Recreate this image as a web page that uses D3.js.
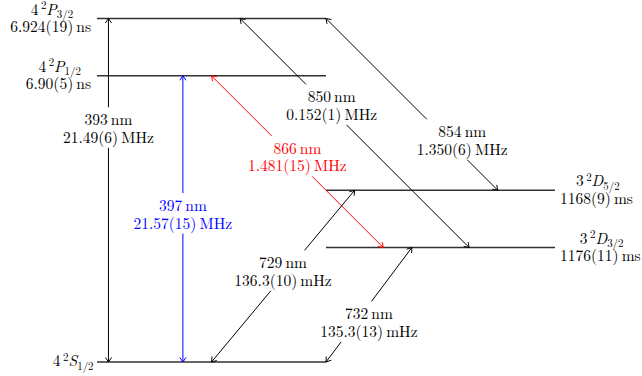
<!DOCTYPE html>
<html>
<head>
<meta charset="utf-8">
<script src="https://cdn.jsdelivr.net/npm/d3@7"></script>
<style>
  html, body { margin: 0; padding: 0; background: #fff; }
</style>
</head>
<body>
<svg id="chart" width="642" height="376"></svg>
<script>
// Energy levels of 40Ca+ (heights in diagram units)
const levelIds = ["S12", "D32", "D52", "P12", "P32"];
const levelN = ["4", "3", "3", "4", "4"];
const levelL = ["S", "D", "D", "P", "P"];
const levelJ = ["1/2", "3/2", "5/2", "1/2", "3/2"];
const levelLifetime = ["", "1176(11)\u2009ms", "1168(9)\u2009ms", "6.90(5)\u2009ns", "6.924(19)\u2009ns"];
const levelHeight = [0, 2, 3, 5, 6];
const levelStart = [0, 4, 4, 0, 0];
const levelEnd = [4, 8, 8, 4, 4];

// Transitions between levels
const lineWavelength = ["393\u2009nm", "397\u2009nm", "866\u2009nm", "850\u2009nm", "854\u2009nm", "729\u2009nm", "732\u2009nm"];
const lineRate = ["21.49(6)\u2009MHz", "21.57(15)\u2009MHz", "1.481(15)\u2009MHz", "0.152(1)\u2009MHz",
                  "1.350(6)\u2009MHz", "136.3(10)\u2009mHz", "135.3(13)\u2009mHz"];
const lineLower = ["S12", "S12", "D32", "D32", "D52", "S12", "S12"];
const lineUpper = ["P32", "P12", "P12", "P32", "P32", "D52", "D32"];
const lineLowerX = [0.2, 1.5, 5, 6.5, 7, 2, 4];
const lineUpperX = [0.2, 1.5, 2, 2.5, 4, 4.5, 5.5];

// label anchors (diagram units) and colours of each transition
const labelX = [0.2, 1.5, 3.5, 4.1, 6.38, 3.25, 4.75];
const labelY = [4, 2.5, 3.5, 4.4, 3.79, 1.5, 0.61];
const lineColor = ["#000", "#0000ff", "#ff0000", "#000", "#000", "#000", "#000"];

const svg = d3.select("#chart").style("font-family", '"Latin Modern Roman", "Liberation Serif", serif');
const x = d3.scaleLinear().domain([0, 8]).range([97, 555]);
const y = d3.scaleLinear().domain([0, 6]).range([362, 18.5]);
const FS = 15.5;
const LH = 17.5;

const levelY = id => levelHeight[levelIds.indexOf(id)];

// level lines
const gLevels = svg.append("g");
levelIds.forEach((id, i) => {
  gLevels.append("line")
    .attr("x1", x(levelStart[i])).attr("x2", x(levelEnd[i]))
    .attr("y1", y(levelHeight[i])).attr("y2", y(levelHeight[i]))
    .attr("stroke", "#333").attr("stroke-width", 1.4);
});

// term symbol n ^2 L_J
function termText(sel, i) {
  sel.append("tspan").text(levelN[i]);
  sel.append("tspan").attr("dx", 2.5).attr("dy", -5.5).attr("font-size", FS * 0.7).text("2");
  sel.append("tspan").attr("dy", 5.5).attr("font-style", "italic").text(levelL[i]);
  sel.append("tspan").attr("dy", 3.5).attr("font-size", FS * 0.7).text(levelJ[i]);
}

// level labels: two centered lines, block on left (P, S) or right (D)
levelIds.forEach((id, i) => {
  const g = svg.append("g");
  const yy = y(levelHeight[i]);
  const single = levelLifetime[i] === "";
  const t1 = g.append("text").attr("font-size", FS).attr("y", single ? yy + 4 : yy - 4);
  termText(t1, i);
  let t2 = null;
  if (!single) {
    t2 = g.append("text").attr("font-size", FS).attr("y", yy - 4 + LH).text(levelLifetime[i]);
  }
  const w1 = t1.node().getComputedTextLength();
  const w2 = t2 ? t2.node().getComputedTextLength() : 0;
  const w = Math.max(w1, w2);
  const left = levelStart[i] === 0;
  const cx = left ? x(levelStart[i]) - 6 - w / 2 : x(levelEnd[i]) + 5 + w / 2;
  t1.attr("x", cx - w1 / 2);
  if (t2) t2.attr("x", cx - w2 / 2);
});

// transition arrows with open heads at both ends
const gLines = svg.append("g");
function head(g, xt, yt, xf, yf, color) {
  const a = Math.atan2(yt - yf, xt - xf);
  const L = 5.5, s = 0.6;
  const p = [
    [xt - L * Math.cos(a - s), yt - L * Math.sin(a - s)],
    [xt, yt],
    [xt - L * Math.cos(a + s), yt - L * Math.sin(a + s)]
  ];
  g.append("path").attr("d", d3.line()(p))
    .attr("fill", "none").attr("stroke", color).attr("stroke-width", 1);
}
lineWavelength.forEach((w, i) => {
  const x1 = x(lineLowerX[i]), y1 = y(levelY(lineLower[i]));
  const x2 = x(lineUpperX[i]), y2 = y(levelY(lineUpper[i]));
  gLines.append("line").attr("x1", x1).attr("y1", y1).attr("x2", x2).attr("y2", y2)
    .attr("stroke", lineColor[i]).attr("stroke-width", 1);
  head(gLines, x1, y1, x2, y2, lineColor[i]);
  head(gLines, x2, y2, x1, y1, lineColor[i]);
});

// transition labels on white boxes
const gLabels = svg.append("g");
lineWavelength.forEach((w, i) => {
  const g = gLabels.append("g");
  const cx = x(labelX[i]), cy = y(labelY[i]);
  const rect = g.append("rect").attr("fill", "#fff");
  const b1 = cy - LH / 2 + 1;
  const t1 = g.append("text").attr("font-size", FS).attr("fill", lineColor[i])
    .attr("text-anchor", "middle").attr("x", cx).attr("y", b1).text(w);
  const t2 = g.append("text").attr("font-size", FS).attr("fill", lineColor[i])
    .attr("text-anchor", "middle").attr("x", cx).attr("y", b1 + LH).text(lineRate[i]);
  const bb1 = t1.node().getBBox(), bb2 = t2.node().getBBox();
  const x0 = Math.min(bb1.x, bb2.x), x1 = Math.max(bb1.x + bb1.width, bb2.x + bb2.width);
  const y0 = bb1.y, y1b = bb2.y + bb2.height;
  const pad = 3;
  rect.attr("x", x0 - pad).attr("y", y0 - pad + 2)
    .attr("width", x1 - x0 + 2 * pad).attr("height", y1b - y0 + 2 * pad - 4);
});
</script>
</body>
</html>
